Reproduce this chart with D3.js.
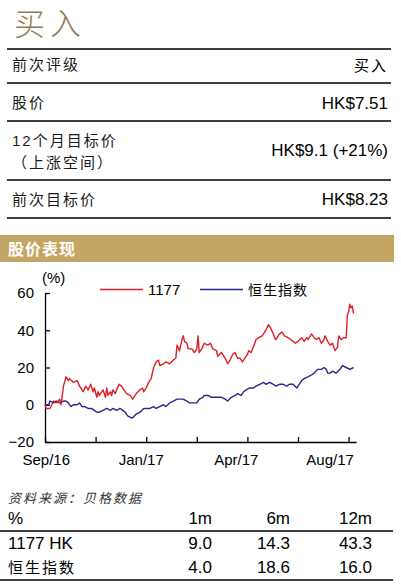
<!DOCTYPE html>
<html>
<head>
<meta charset="utf-8">
<script src="https://cdn.jsdelivr.net/npm/d3@7"></script>
<style>
  body { margin: 0; background: #fff; }
  svg { display: block; font-family: 'Liberation Sans', Arial, 'Noto Sans CJK SC', sans-serif; }
  .axis .domain, .axis line { stroke: #000; stroke-width: 1.3px; }
  .axis text { font-size: 15px; fill: #000; font-family: 'Liberation Sans', Arial, sans-serif; }
</style>
</head>
<body>
<svg width="401" height="587"></svg>
<script>
const title = '买入'
const infoLabels = [['前次评级'], ['股价'], ['12个月目标价', '（上涨空间）'], ['前次目标价']]
const infoValues = ['买入', 'HK$7.51', 'HK$9.1 (+21%)', 'HK$8.23']

const sectionTitle = '股价表现'
const seriesNames = ['1177', '恒生指数']

// trading days from Sep/16, % change
const days1177 = [0, 1, 4, 7, 9, 12, 13, 15, 17, 19, 20, 23, 26, 28, 31, 33, 35, 37, 39, 40, 42, 43, 44, 47, 49, 50, 51, 53, 54, 55, 57, 58, 60, 62, 64, 66, 69, 71, 73, 74, 77, 79, 80, 82, 84, 86, 88, 90, 92, 93, 96, 98, 101, 104, 106, 107, 109, 111, 112, 113, 115, 116, 119, 121, 123, 124, 125, 127, 129, 132, 134, 136, 139, 140, 143, 146, 148, 150, 152, 154, 156, 158, 160, 162, 164, 165, 167, 170, 171, 173, 176, 178, 179, 181, 183, 185, 186, 187, 190, 192, 194, 197, 199, 201, 203, 205, 208, 210, 212, 213, 216, 218, 220, 222, 224, 226, 227, 229, 231, 233, 235, 237, 238, 240, 242, 244, 245, 246, 247, 248, 249, 250]
const vals1177 = [0, -2, -2, 2, 1, 3, 0, 10, 15, 13, 14, 12, 13, 10, 7, 10, 8, 11, 7, 9, 4, 7, 5, 8, 4, 9, 5, 7, 5, 8, 6, 8, 11, 10, 8, 6, 5, 3, 5, 6, 8, 9, 7, 9, 12, 14, 20, 23, 24, 21, 22, 23, 22, 24, 25, 32, 29, 35, 37, 34, 33, 30, 30, 28, 30, 37, 28, 30, 33, 32, 33, 30, 29, 26, 28, 25, 22, 24, 27, 28, 25, 25, 23, 25, 27, 29, 28, 33, 35, 36, 37, 39, 40, 43, 41, 38, 36, 35, 38, 39, 37, 36, 35, 34, 33, 34, 36, 34, 36, 35, 38, 36, 35, 36, 33, 35, 37, 34, 32, 33, 29, 31, 37, 35, 36, 36, 48, 50, 54, 52, 53, 49]
const daysHSI = [0, 3, 4, 7, 9, 12, 15, 17, 19, 21, 23, 26, 28, 30, 32, 35, 38, 40, 42, 44, 47, 50, 53, 55, 58, 61, 63, 65, 67, 70, 71, 74, 77, 80, 82, 85, 88, 90, 93, 96, 98, 101, 104, 107, 109, 112, 115, 117, 120, 123, 125, 128, 129, 132, 135, 138, 140, 143, 146, 148, 151, 154, 156, 159, 161, 163, 166, 169, 171, 174, 177, 179, 182, 185, 187, 190, 193, 196, 198, 201, 204, 205, 208, 210, 213, 216, 218, 221, 224, 226, 228, 229, 231, 233, 236, 239, 241, 244, 247, 250]
const valsHSI = [0, 0, 2, 1, 2, 1, 2, 2, 1, -1, 0, 0, 1, -1, -1, -2, -2, -3, -4, -4, -3, -2, -3, -2, -3, -2, -3, -4, -6, -7, -7, -5, -4, -2, -2, -2, -1, -2, -1, 0, -1, 1, 2, 3, 3, 3, 2, 1, 1, 1, 3, 4, 5, 5, 4, 4, 4, 4, 3, 2, 4, 5, 6, 5, 7, 8, 9, 9, 10, 11, 12, 11, 12, 11, 10, 11, 11, 10, 11, 11, 9, 10, 13, 14, 15, 16, 17, 19, 19, 20, 19, 17, 17, 18, 17, 19, 21, 20, 19, 20]

const yTicks = [-20, 0, 20, 40, 60]
const xTickDays = [0, 41, 82, 123, 164, 205, 246]
const xLabelDays = [1, 78, 155, 231]
const xLabels = ['Sep/16', 'Jan/17', 'Apr/17', 'Aug/17']

const perfSource = '资料来源：贝格数据'
const perfPeriods = ['1m', '6m', '12m']
const perfNames = ['1177 HK', '恒生指数']
const perf1177 = [9.0, 14.3, 43.3]
const perfHSI = [4.0, 18.6, 16.0]

const svg = d3.select('svg')
const cjk = "'Noto Sans CJK SC', sans-serif"
const gold = '#c4a664'
const colors = ['#dd1f26', '#26288c']

// Title
svg.append('text')
  .attr('x', 14)
  .attr('y', 35)
  .attr('font-family', cjk)
  .attr('font-weight', 300)
  .attr('font-size', 31)
  .attr('letter-spacing', 5)
  .attr('fill', '#8e7a56')
  .text(title)

// Info table
const rowLines = [49, 83, 121, 180, 218]
svg.append('g')
  .selectAll('line')
  .data(rowLines)
  .join('line')
  .attr('x1', 7)
  .attr('x2', 391)
  .attr('y1', d => d)
  .attr('y2', d => d)
  .attr('stroke', '#000')
  .attr('stroke-width', 1.3)

const labelBase = [[70], [108], [146, 168], [205]]
const valueBase = [71, 109, 156, 205]
infoLabels.forEach((lines, i) => {
  lines.forEach((t, j) => {
    svg.append('text')
      .attr('x', 12)
      .attr('y', labelBase[i][j])
      .attr('font-size', 15)
      .attr('letter-spacing', 2)
      .attr('fill', '#1a1a1a')
      .text(t)
  })
  svg.append('text')
    .attr('x', 388)
    .attr('y', valueBase[i])
    .attr('text-anchor', 'end')
    .attr('font-size', i === 0 ? 15 : 17)
    .attr('letter-spacing', i === 0 ? 2 : 0)
    .attr('fill', '#000')
    .text(infoValues[i])
})

// Section header
svg.append('rect')
  .attr('x', 0)
  .attr('y', 235)
  .attr('width', 394)
  .attr('height', 27)
  .attr('fill', gold)
svg.append('text')
  .attr('x', 8)
  .attr('y', 255)
  .attr('font-family', cjk)
  .attr('font-weight', 700)
  .attr('font-size', 16)
  .attr('letter-spacing', 1)
  .attr('fill', '#fff')
  .text(sectionTitle)

// Chart
const margin = { left: 45, top: 293, bottom: 442 }
const xScale = d3.scaleLinear([0, 252], [margin.left, 356])
const yScale = d3.scaleLinear([-20, 60], [margin.bottom, margin.top])

const xAxisEl = svg.append('g')
  .classed('axis', true)
  .attr('transform', `translate(0,${ margin.bottom })`)
  .call(d3.axisBottom(xScale)
    .tickValues(xTickDays)
    .tickFormat('')
    .tickSizeInner(-5)
    .tickSizeOuter(0))

xAxisEl.selectAll('.month')
  .data(xLabelDays)
  .join('text')
  .classed('month', true)
  .attr('x', d => xScale(d))
  .attr('y', 12)
  .attr('dy', '0.71em')
  .attr('text-anchor', 'middle')
  .text((d, i) => xLabels[i])

svg.append('g')
  .classed('axis', true)
  .attr('transform', `translate(${ margin.left },0)`)
  .call(d3.axisLeft(yScale)
    .tickValues(yTicks)
    .tickSizeInner(-5)
    .tickSizeOuter(0)
    .tickPadding(11))

const line = d3.line()
  .x(d => xScale(d[0]))
  .y(d => yScale(d[1]))

const series = [
  d3.zip(daysHSI, valsHSI),
  d3.zip(days1177, vals1177),
]
svg.append('g')
  .selectAll('path')
  .data(series)
  .join('path')
  .attr('d', line)
  .attr('fill', 'none')
  .attr('stroke', (d, i) => colors[1 - i])
  .attr('stroke-width', 1.4)
  .attr('stroke-linejoin', 'round')

svg.append('text')
  .attr('x', 42)
  .attr('y', 283)
  .attr('font-size', 15)
  .text('(%)')

// Legend
const legendX = [100, 200]
seriesNames.forEach((name, i) => {
  svg.append('line')
    .attr('x1', legendX[i])
    .attr('x2', legendX[i] + 43)
    .attr('y1', 289.5)
    .attr('y2', 289.5)
    .attr('stroke', colors[i])
    .attr('stroke-width', 1.6)
  svg.append('text')
    .attr('x', legendX[i] + 48)
    .attr('y', 295)
    .attr('font-size', i === 0 ? 15 : 14)
    .attr('letter-spacing', i === 0 ? 0 : 1)
    .text(name)
})

// Performance table
svg.append('text')
  .attr('x', 8)
  .attr('y', 503)
  .attr('font-family', cjk)
  .attr('font-style', 'italic')
  .attr('font-size', 13)
  .attr('letter-spacing', 2)
  .attr('fill', '#333')
  .text(perfSource)

const colX = [212, 290, 372]
svg.append('text')
  .attr('x', 8)
  .attr('y', 524)
  .attr('font-size', 17)
  .text('%')
perfPeriods.forEach((p, i) => {
  svg.append('text')
    .attr('x', colX[i])
    .attr('y', 524)
    .attr('text-anchor', 'end')
    .attr('font-size', 17)
    .text(p)
})

const perfRows = [perf1177, perfHSI]
const perfBase = [549, 573]
perfNames.forEach((name, r) => {
  svg.append('text')
    .attr('x', 8)
    .attr('y', perfBase[r])
    .attr('font-size', r === 0 ? 17 : 15)
    .attr('letter-spacing', r === 0 ? 0 : 2)
    .text(name)
  perfRows[r].forEach((v, i) => {
    svg.append('text')
      .attr('x', colX[i])
      .attr('y', perfBase[r])
      .attr('text-anchor', 'end')
      .attr('font-size', 17)
      .text(v.toFixed(1))
  })
})

svg.append('g')
  .selectAll('line')
  .data([531, 580])
  .join('line')
  .attr('x1', 0)
  .attr('x2', 393)
  .attr('y1', d => d)
  .attr('y2', d => d)
  .attr('stroke', '#000')
  .attr('stroke-width', 1.3)
</script>
</body>
</html>
